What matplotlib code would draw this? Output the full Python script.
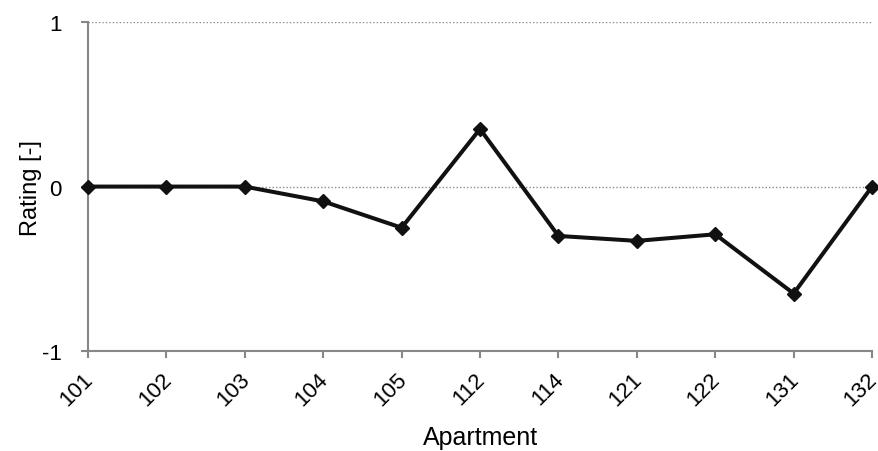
import matplotlib
matplotlib.use("Agg")
import matplotlib.pyplot as plt

apartments = ["101", "102", "103", "104", "105", "112", "114", "121", "122", "131", "132"]
ratings = [0.0, 0.0, 0.0, -0.09, -0.25, 0.35, -0.30, -0.33, -0.29, -0.65, 0.0]
y_ticks = [-1, 0, 1]

plt.rcParams["font.family"] = ["Liberation Sans", "DejaVu Sans"]

fig = plt.figure(figsize=(8.79, 4.52), dpi=100)
ax = fig.add_axes([0.1001, 0.221, 0.892, 0.728])

x = list(range(len(apartments)))
ax.plot(x, ratings, color="#111111", linewidth=2.9, marker="D", markersize=7.5,
        markerfacecolor="#111111", markeredgecolor="#111111", zorder=3, clip_on=False)

ax.set_xlim(0, len(apartments) - 1)
ax.set_ylim(-1, 1)
ax.set_yticks(y_ticks)
ax.set_yticklabels([str(v) for v in y_ticks])
ax.set_xticks(x)
ax.set_xticklabels([])

# rotated category labels, anchored just below each tick
for xi, name in zip(x, apartments):
    ax.annotate(name, xy=(xi, 0), xycoords=("data", "axes fraction"),
                xytext=(-4.0, -12.5), textcoords="offset points",
                rotation=45, ha="right", va="top", rotation_mode="anchor",
                fontsize=16, color="black", annotation_clip=False)

for v in y_ticks[1:]:
    ax.axhline(v, color="#8c8c8c", linewidth=1.0, linestyle=(0, (1, 1.5)), zorder=1)

for side in ("top", "right"):
    ax.spines[side].set_visible(False)
for side in ("left", "bottom"):
    ax.spines[side].set_color("#878787")
    ax.spines[side].set_linewidth(1.5)

ax.tick_params(axis="both", colors="#878787", direction="out", length=5, width=1.5,
               labelcolor="black", labelsize=16)
ax.tick_params(axis="y", pad=14)

ax.set_xlabel("Apartment", fontsize=18)
ax.xaxis.set_label_coords(0.5, -0.225)
ax.xaxis.label.set_va("top")
ax.set_ylabel("Rating [-]", fontsize=17, labelpad=0)

fig.savefig("out.png", dpi=100)
